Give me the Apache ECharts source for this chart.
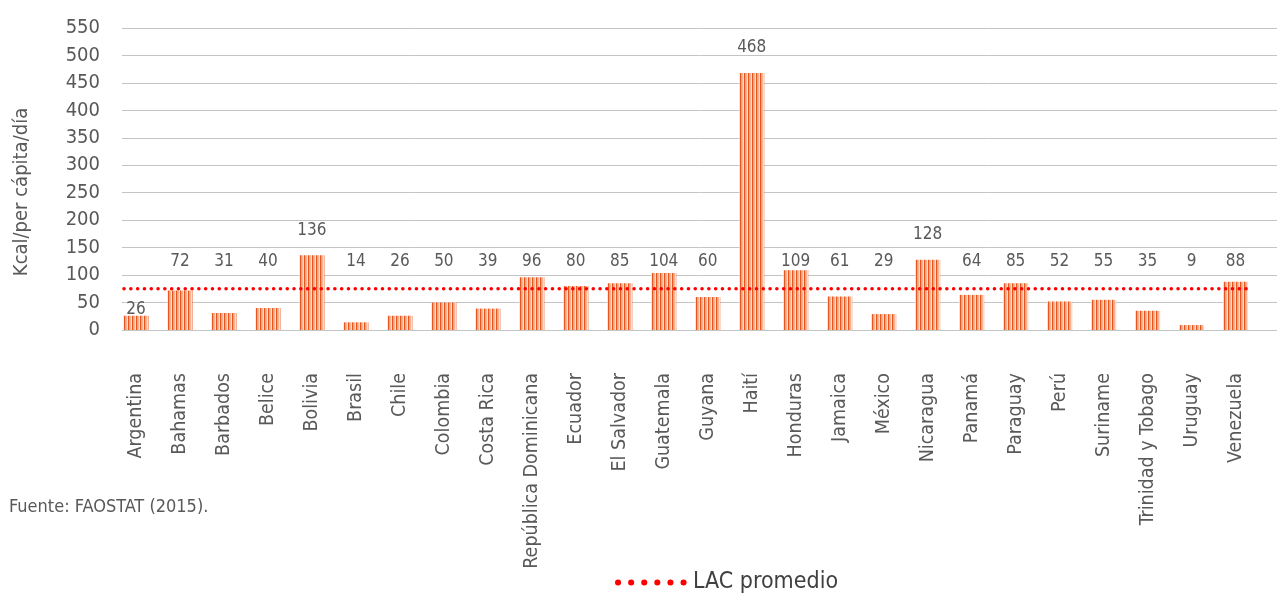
<!DOCTYPE html>
<html>
<head>
<meta charset="utf-8">
<script src="https://cdn.jsdelivr.net/npm/echarts@6/dist/echarts.min.js"></script>
<style>
html,body{margin:0;padding:0;background:#fff;}
#c{width:1277px;height:595px;}
</style>
</head>
<body>
<div id="c"></div>
<script>
const categories = ['Argentina','Bahamas','Barbados','Belice','Bolivia','Brasil','Chile','Colombia','Costa Rica','República Dominicana','Ecuador','El Salvador','Guatemala','Guyana','Haití','Honduras','Jamaica','México','Nicaragua','Panamá','Paraguay','Perú','Suriname','Trinidad y Tobago','Uruguay','Venezuela'];
const values = [26,72,31,40,136,14,26,50,39,96,80,85,104,60,468,109,61,29,128,64,85,52,55,35,9,88];
const lacAverage = [75, 75];
const yTicks = [0,50,100,150,200,250,300,350,400,450,500,550];
const labelsAtBarTop = ['Argentina'];

const FONT = '"Liberation Sans Narrow","DejaVu Sans Condensed","Roboto",sans-serif';
const TOP = 28, BOTTOM = 265, H = 302;
const YMAX = 550;
const ppu = H / YMAX;

// striped pattern
const pc = document.createElement('canvas');
pc.width = 4; pc.height = 4;
const g = pc.getContext('2d');
const cols = ['#E8561F','#F2A47E','#F5B496','#FADCCB'];
cols.forEach((c,i)=>{g.fillStyle=c;g.fillRect(i,0,1,4);});

const barData = values.map((v,i)=>{
  const name = categories[i];
  let pos, va;
  if (labelsAtBarTop.includes(name)) { pos = ['50%', 2]; va = 'bottom'; }
  else if (v > 120) { pos = ['50%', -25]; va = 'middle'; }
  else { pos = ['50%', -(125 - v) * ppu]; va = 'middle'; }
  return { value: v, label: { position: pos, align: 'center', verticalAlign: va } };
});

const chart = echarts.init(document.getElementById('c'));
chart.setOption({
  animation: false,
  grid: [
    { left: 122, right: 0, top: TOP, bottom: BOTTOM },
    { left: 114, width: 1143.5, top: TOP, bottom: BOTTOM },
    { left: 124, width: 1123, top: TOP, bottom: BOTTOM }
  ],
  xAxis: [
    { gridIndex: 0, type: 'value', show: false, min: 0, max: 1 },
    { gridIndex: 1, type: 'category', data: categories,
      axisLine: { show: false }, axisTick: { show: false },
      axisLabel: { rotate: 90, interval: 0, margin: 43, fontFamily: FONT, fontSize: 19.5, color: '#595959' } },
    { gridIndex: 2, type: 'category', data: [categories[0], categories[categories.length-1]], boundaryGap: false, show: false }
  ],
  yAxis: [
    { gridIndex: 0, type: 'value', min: 0, max: YMAX, interval: 50,
      axisLine: { show: false }, axisTick: { show: false },
      axisLabel: { margin: 22, fontFamily: FONT, fontSize: 20, color: '#595959' },
      splitLine: { lineStyle: { color: '#C4C4C4', width: 1 } } },
    { gridIndex: 1, type: 'value', min: 0, max: YMAX, show: false },
    { gridIndex: 2, type: 'value', min: 0, max: YMAX, show: false }
  ],
  legend: {
    data: ['LAC promedio'],
    left: 610, top: 566,
    itemWidth: 70, itemHeight: 14, itemGap: 6,
    textStyle: { fontFamily: FONT, fontSize: 23, color: '#404040' },
    itemStyle: { opacity: 0 },
    lineStyle: { color: '#FF0000', width: 6, type: [0.1, 13], cap: 'round' }
  },
  series: [
    { type: 'bar', name: 'valores', xAxisIndex: 1, yAxisIndex: 1, data: barData, barWidth: 25,
      itemStyle: { color: { image: pc, repeat: 'repeat' } },
      label: { show: true, fontFamily: FONT, fontSize: 17, color: '#595959' } },
    { type: 'line', name: 'LAC promedio', xAxisIndex: 2, yAxisIndex: 2, data: lacAverage,
      symbol: 'none', silent: true, itemStyle: { color: '#FF0000' },
      lineStyle: { color: '#FF0000', width: 3.5, type: [0.1, 6.7], cap: 'round' } }
  ],
  graphic: [
    { type: 'text', x: 22, y: 192, rotation: Math.PI / 2,
      style: { text: 'Kcal/per cápita/día', fontFamily: FONT, fontSize: 20, fill: '#595959', align: 'center', verticalAlign: 'middle' } },
    { type: 'text', left: 9, top: 498,
      style: { text: 'Fuente: FAOSTAT (2015).', fontFamily: FONT, fontSize: 18, fill: '#595959' } }
  ]
});
</script>
</body>
</html>
